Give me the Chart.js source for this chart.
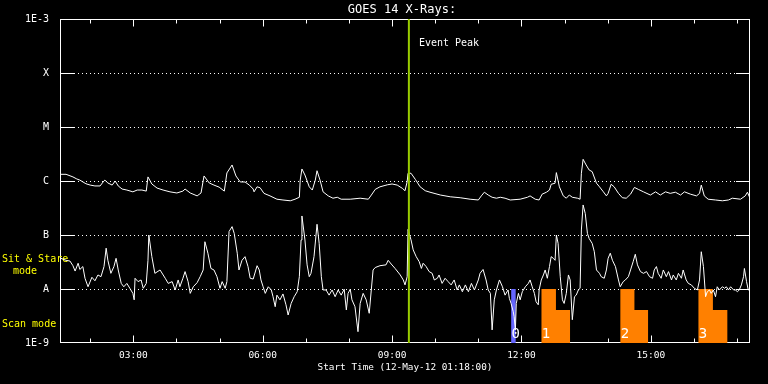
<!DOCTYPE html>
<html>
<head>
<meta charset="utf-8">
<script src="https://cdn.jsdelivr.net/npm/chart.js@4/dist/chart.umd.min.js"></script>
<style>
html,body{margin:0;padding:0;background:#000;overflow:hidden;}
canvas{display:block;}
</style>
</head>
<body>
<canvas id="c" width="768" height="384"></canvas>
<script>
// ---- Data (time in decimal hours UT, 12-May-2012; flux in W/m^2) ----
const longTimes = [
1.32,1.44,1.60,1.69,1.76,1.90,2.00,2.11,2.23,2.30,
2.34,2.41,2.51,2.58,2.65,2.74,2.85,2.99,3.09,3.20,
3.30,3.34,3.43,3.55,3.69,3.85,4.01,4.15,4.20,4.32,
4.48,4.57,4.64,4.76,4.87,4.99,5.11,5.17,5.29,5.38,
5.48,5.59,5.69,5.78,5.80,5.87,5.94,6.03,6.17,6.33,
6.47,6.64,6.75,6.85,6.87,6.91,6.98,7.08,7.15,7.22,
7.26,7.33,7.40,7.52,7.63,7.73,7.82,8.03,8.26,8.45,
8.52,8.61,8.72,8.89,9.00,9.12,9.24,9.30,9.35,9.37,
9.44,9.54,9.65,9.77,9.88,10.12,10.35,10.58,10.81,11.00,
11.07,11.14,11.23,11.32,11.42,11.51,11.62,11.74,11.97,12.14,
12.20,12.32,12.41,12.48,12.58,12.65,12.69,12.78,12.81,12.88,
12.97,13.04,13.11,13.18,13.30,13.36,13.39,13.43,13.50,13.57,
13.64,13.74,13.81,13.90,13.97,14.01,14.08,14.15,14.25,14.34,
14.43,14.53,14.62,14.71,14.83,14.99,15.11,15.22,15.34,15.45,
15.57,15.69,15.78,15.92,16.06,16.13,16.17,16.24,16.33,16.50,
16.66,16.80,16.89,17.08,17.19,17.24,17.30];
const longFlux = [
1.33e-6,1.33e-6,1.19e-6,1.09e-6,1.04e-6,8.9e-7,8.4e-7,8.1e-7,8.1e-7,9.6e-7,
1.04e-6,9.2e-7,8.4e-7,1.0e-6,8.1e-7,7.1e-7,6.8e-7,6.3e-7,6.8e-7,6.8e-7,
6.5e-7,1.19e-6,8.8e-7,7.4e-7,6.8e-7,6.3e-7,6.0e-7,6.5e-7,7.1e-7,6.0e-7,
5.3e-7,6.0e-7,1.24e-6,9.2e-7,8.4e-7,7.7e-7,6.5e-7,1.41e-6,1.98e-6,1.24e-6,
9.6e-7,9.6e-7,8.4e-7,7.1e-7,6.3e-7,7.8e-7,7.5e-7,5.9e-7,5.3e-7,4.6e-7,
4.45e-7,4.3e-7,4.6e-7,5.0e-7,1.04e-6,1.67e-6,1.29e-6,7.8e-7,6.8e-7,1.04e-6,
1.55e-6,1.04e-6,6.3e-7,5.3e-7,4.8e-7,5.0e-7,4.6e-7,4.6e-7,4.8e-7,4.6e-7,
5.5e-7,7.0e-7,7.8e-7,8.5e-7,8.8e-7,8.4e-7,7.3e-7,6.6e-7,9.7e-7,1.39e-6,
1.39e-6,1.07e-6,7.8e-7,6.6e-7,6.2e-7,5.5e-7,5.1e-7,4.9e-7,4.6e-7,4.45e-7,
5.3e-7,6.2e-7,5.5e-7,5.0e-7,4.8e-7,5.0e-7,4.8e-7,4.45e-7,4.6e-7,5.0e-7,
5.3e-7,4.6e-7,4.45e-7,5.7e-7,6.2e-7,6.8e-7,8.7e-7,9.1e-7,1.43e-6,7.8e-7,
5.3e-7,4.8e-7,5.5e-7,5.0e-7,4.8e-7,4.6e-7,1.39e-6,2.52e-6,1.98e-6,1.6e-6,
1.49e-6,9.1e-7,7.8e-7,6.3e-7,5.3e-7,5.9e-7,8.7e-7,7.8e-7,5.9e-7,4.9e-7,
4.8e-7,5.7e-7,7.6e-7,7.0e-7,6.3e-7,5.5e-7,6.3e-7,5.5e-7,6.3e-7,5.9e-7,
6.2e-7,5.5e-7,6.3e-7,5.7e-7,5.3e-7,5.9e-7,8.4e-7,5.3e-7,4.6e-7,4.45e-7,
4.3e-7,4.45e-7,4.8e-7,4.6e-7,5.3e-7,6.2e-7,4.8e-7];

const shortTimes = [
1.32,1.44,1.53,1.60,1.65,1.72,1.76,1.83,1.88,1.95,
2.04,2.11,2.18,2.25,2.32,2.37,2.41,2.48,2.55,2.60,
2.65,2.72,2.78,2.85,2.92,2.99,3.02,3.04,3.11,3.18,
3.23,3.30,3.34,3.36,3.43,3.50,3.62,3.74,3.81,3.90,
3.97,4.04,4.08,4.15,4.20,4.27,4.32,4.39,4.48,4.55,
4.62,4.66,4.73,4.80,4.87,4.94,5.01,5.06,5.13,5.17,
5.22,5.29,5.34,5.41,5.45,5.52,5.59,5.66,5.71,5.78,
5.87,5.92,5.96,6.01,6.06,6.13,6.20,6.24,6.29,6.33,
6.40,6.47,6.54,6.59,6.66,6.73,6.80,6.85,6.89,6.91,
6.98,7.03,7.08,7.12,7.19,7.26,7.31,7.36,7.40,7.47,
7.54,7.61,7.68,7.75,7.82,7.89,7.94,7.98,8.03,8.07,
8.14,8.21,8.26,8.33,8.40,8.47,8.56,8.61,8.72,8.86,
8.91,8.98,9.07,9.19,9.26,9.30,9.35,9.37,9.44,9.49,
9.56,9.63,9.68,9.72,9.79,9.86,9.93,9.98,10.05,10.09,
10.16,10.23,10.30,10.37,10.44,10.51,10.56,10.63,10.70,10.77,
10.84,10.91,11.00,11.04,11.11,11.18,11.23,11.28,11.32,11.37,
11.42,11.49,11.56,11.62,11.69,11.72,11.76,11.81,11.83,11.86,
11.88,11.93,11.97,12.02,12.09,12.16,12.20,12.25,12.30,12.34,
12.39,12.41,12.46,12.51,12.55,12.60,12.65,12.69,12.74,12.78,
12.81,12.85,12.90,12.95,12.99,13.04,13.09,13.13,13.18,13.23,
13.27,13.32,13.36,13.39,13.43,13.48,13.53,13.57,13.64,13.69,
13.74,13.81,13.85,13.92,13.97,14.01,14.06,14.11,14.18,14.25,
14.29,14.36,14.41,14.48,14.53,14.59,14.64,14.69,14.76,14.83,
14.90,14.97,15.04,15.08,15.13,15.17,15.24,15.29,15.36,15.41,
15.48,15.52,15.59,15.64,15.71,15.75,15.82,15.87,15.94,16.01,
16.08,16.13,16.17,16.22,16.27,16.31,16.36,16.40,16.45,16.50,
16.54,16.59,16.66,16.71,16.75,16.80,16.85,16.92,16.96,17.01,
17.05,17.10,17.15,17.17,17.22,17.26,17.30];
const shortFlux = [
3.7e-8,3.4e-8,3.3e-8,2.7e-8,2.15e-8,3.0e-8,2.3e-8,2.6e-8,1.58e-8,1.1e-8,
1.65e-8,1.42e-8,1.82e-8,1.69e-8,2.6e-8,5.7e-8,3.4e-8,1.95e-8,2.6e-8,3.7e-8,
2.25e-8,1.27e-8,1.1e-8,1.27e-8,1.03e-8,8.3e-9,6.3e-9,1.58e-8,1.37e-8,1.47e-8,
1.03e-8,1.27e-8,3.4e-8,1.0e-7,3.97e-8,1.95e-8,2.25e-8,1.58e-8,1.27e-8,1.37e-8,
9.6e-9,1.47e-8,1.1e-8,1.58e-8,2.1e-8,1.37e-8,8.3e-9,1.1e-8,1.31e-8,1.69e-8,
2.25e-8,7.5e-8,4.6e-8,2.4e-8,2.25e-8,1.69e-8,1.03e-8,1.37e-8,1.03e-8,1.37e-8,
1.16e-7,1.43e-7,1.07e-7,4.6e-8,2.25e-8,3.4e-8,3.97e-8,2.6e-8,1.58e-8,1.53e-8,
2.7e-8,2.25e-8,1.47e-8,1.1e-8,8.3e-9,1.1e-8,9.6e-9,7.2e-9,4.7e-9,7.7e-9,
6.3e-9,8.1e-9,5.1e-9,3.3e-9,5.4e-9,7.2e-9,8.9e-9,1.69e-8,8.1e-8,2.25e-7,
8.1e-8,2.8e-8,1.69e-8,1.95e-8,3.97e-8,1.58e-7,7.0e-8,1.69e-8,9.6e-9,9.6e-9,
7.7e-9,9.6e-9,7.2e-9,9.6e-9,7.7e-9,9.9e-9,4.1e-9,8.3e-9,9.9e-9,6.3e-9,
4.7e-9,1.62e-9,5.4e-9,8.3e-9,6.3e-9,3.55e-9,2.25e-8,2.5e-8,2.7e-8,2.8e-8,
3.4e-8,2.9e-8,2.4e-8,1.82e-8,1.47e-8,1.19e-8,1.69e-8,1.27e-7,8.1e-8,5.3e-8,
3.97e-8,3.2e-8,2.4e-8,3.0e-8,2.6e-8,2.1e-8,1.95e-8,1.47e-8,1.58e-8,1.82e-8,
1.27e-8,1.58e-8,1.37e-8,1.19e-8,1.47e-8,9.6e-9,1.19e-8,8.9e-9,1.19e-8,8.9e-9,
1.27e-8,9.6e-9,1.47e-8,1.95e-8,2.3e-8,1.47e-8,9.6e-9,8.3e-9,1.75e-9,6.3e-9,
9.6e-9,1.47e-8,1.1e-8,7.7e-9,9.6e-9,6.7e-9,5.4e-9,3.8e-9,3.1e-9,1.75e-9,
5.4e-9,8.3e-9,6.3e-9,8.9e-9,1.1e-8,1.27e-8,1.47e-8,1.1e-8,8.3e-9,5.8e-9,
5.1e-9,9.6e-9,1.47e-8,1.82e-8,2.25e-8,1.58e-8,2.6e-8,3.97e-8,3.7e-8,3.4e-8,
1.0e-7,7.0e-8,1.69e-8,6.3e-9,5.4e-9,8.3e-9,1.82e-8,1.47e-8,2.7e-9,7.2e-9,
7.7e-9,9.6e-9,1.03e-8,1.24e-7,3.6e-7,2.5e-7,1.07e-7,8.6e-8,7.0e-8,4.9e-8,
2.25e-8,1.95e-8,1.69e-8,1.58e-8,2.25e-8,3.7e-8,4.6e-8,3.4e-8,2.6e-8,1.47e-8,
1.1e-8,1.37e-8,1.47e-8,1.69e-8,2.25e-8,3.2e-8,4.4e-8,2.8e-8,2.1e-8,1.95e-8,
2.1e-8,1.69e-8,1.58e-8,2.25e-8,2.6e-8,1.95e-8,1.58e-8,2.25e-8,1.69e-8,2.1e-8,
1.47e-8,1.82e-8,1.47e-8,1.95e-8,1.58e-8,2.25e-8,1.47e-8,1.27e-8,1.19e-8,1.03e-8,
9.6e-9,1.47e-8,4.9e-8,2.6e-8,7.2e-9,8.9e-9,9.6e-9,8.3e-9,9.6e-9,7.2e-9,
1.1e-8,9.6e-9,1.1e-8,1.03e-8,1.1e-8,9.6e-9,1.1e-8,9.6e-9,9.6e-9,8.9e-9,
9.6e-9,1.19e-8,1.69e-8,2.4e-8,1.37e-8,9.6e-9,9.6e-9];

// Scan-mode blocks (orange) and sit & stare block (blue)
const scanLabels = ['1','2','3'];
const scanStart  = [12.46, 14.29, 16.10];
const scanStep   = [12.80, 14.62, 16.44];
const scanEnd    = [13.13, 14.94, 16.78];
const scanHigh   = 1e-8;
const scanLow    = 4.1e-9;
const stareLabel = ['0'];
const stareStart = [11.76];
const stareEnd   = [11.87];

const eventPeakTime = [9.39];

const timeMin = 1.3, timeMax = 17.3;           // 01:18 -> 17:18
const hourTicks = [2,3,4,5,6,7,8,9,10,11,12,13,14,15,16,17];
const fluxTicks = [1e-9,1e-8,1e-7,1e-6,1e-5,1e-4,1e-3];
const fluxTickLabels = ['1E-9','A','B','C','M','X','1E-3'];

const FONT = '"DejaVu Sans Mono", monospace';

// ---- Datasets ----
const toXY = (ts, vs) => ts.map((t, i) => ({x: t, y: vs[i]}));
const datasets = [];
datasets.push({
  data: [{x: eventPeakTime[0], y: fluxTicks[0]}, {x: eventPeakTime[0], y: fluxTicks[6]}],
  borderColor: '#99cc00', borderWidth: 2, pointRadius: 0, fill: false, order: -1
});
datasets.push({data: toXY(longTimes, longFlux), borderColor: '#ffffff', borderWidth: 1, pointRadius: 0, fill: false, order: 0});
datasets.push({data: toXY(shortTimes, shortFlux), borderColor: '#ffffff', borderWidth: 1, pointRadius: 0, fill: false, order: 0});
for (let i = 0; i < scanStart.length; i++) {
  datasets.push({
    data: [{x: scanStart[i], y: scanHigh}, {x: scanStep[i], y: scanHigh},
           {x: scanStep[i], y: scanLow}, {x: scanEnd[i], y: scanLow}],
    borderWidth: 0, borderColor: 'rgba(0,0,0,0)', backgroundColor: '#ff8000',
    pointRadius: 0, fill: 'start', order: 2
  });
}
for (let i = 0; i < stareStart.length; i++) {
  datasets.push({
    data: [{x: stareStart[i], y: scanHigh}, {x: stareEnd[i], y: scanHigh}],
    borderWidth: 0, borderColor: 'rgba(0,0,0,0)', backgroundColor: '#6666ff',
    pointRadius: 0, fill: 'start', order: 2
  });
}

const pad2 = n => (n < 10 ? '0' : '') + n;

const decor = {
  id: 'decor',
  beforeDatasetsDraw(chart) {
    const {ctx, chartArea: a, scales: {x, y}} = chart;
    ctx.save();
    ctx.strokeStyle = '#ffffff';
    ctx.fillStyle = '#ffffff';
    ctx.lineWidth = 1;
    const l = Math.round(a.left), r = Math.round(a.right) - 1;
    const L = l + 0.5, R = r + 0.5;
    const T = Math.round(a.top) + 0.5, B = Math.round(a.bottom) - 0.5;
    // dotted class lines (1px dots every 4px) + solid y ticks
    for (let i = 1; i < fluxTicks.length - 1; i++) {
      const py = Math.round(y.getPixelForValue(fluxTicks[i]));
      for (let dx = l + 18; dx < r - 14; dx += 4) ctx.fillRect(dx, py, 1, 1);
      ctx.fillRect(l, py, 15, 1);
      ctx.fillRect(r - 13, py, 14, 1);
    }
    // frame
    ctx.strokeRect(L, T, R - L, B - T);
    // x ticks (inward)
    hourTicks.forEach(h => {
      const px = Math.round(x.getPixelForValue(h)) + 0.5;
      const len = h % 3 === 0 ? 7 : 4;
      ctx.beginPath();
      ctx.moveTo(px, T); ctx.lineTo(px, T + len);
      ctx.moveTo(px, B); ctx.lineTo(px, B - len);
      ctx.stroke();
    });
    // titles
    ctx.textAlign = 'center';
    ctx.textBaseline = 'middle';
    ctx.font = '12px ' + FONT;
    ctx.fillText('GOES 14 X-Rays:', (a.left + a.right) / 2 - 3, a.top - 9);
    ctx.font = '9.4px ' + FONT;
    ctx.fillText('Start Time (12-May-12 01:18:00)', (a.left + a.right) / 2, a.bottom + 25);
    // mode labels
    ctx.fillStyle = '#ffff00';
    ctx.textAlign = 'left';
    ctx.font = '10px ' + FONT;
    ctx.fillText('Sit & Stare', 2, a.top + 240);
    ctx.fillText('mode', 13, a.top + 252);
    ctx.fillText('Scan mode', 2, a.top + 305);
    ctx.restore();
  },
  afterDatasetsDraw(chart) {
    const {ctx, chartArea: a, scales: {x}} = chart;
    ctx.save();
    ctx.fillStyle = '#ffffff';
    ctx.textAlign = 'left';
    ctx.textBaseline = 'alphabetic';
    ctx.font = '14px ' + FONT;
    scanStart.forEach((s, i) => ctx.fillText(scanLabels[i], x.getPixelForValue(s) + 0.5, a.bottom - 5));
    stareStart.forEach((s, i) => ctx.fillText(stareLabel[i], x.getPixelForValue(s) + 0.5, a.bottom - 5));
    ctx.font = '10px ' + FONT;
    ctx.textBaseline = 'middle';
    ctx.fillText('Event Peak', x.getPixelForValue(eventPeakTime[0]) + 10, a.top + 24);
    ctx.restore();
  }
};

new Chart(document.getElementById('c'), {
  type: 'line',
  data: {datasets},
  options: {
    responsive: false,
    animation: false,
    devicePixelRatio: 1,
    layout: {padding: {left: 0, right: 18, top: 19, bottom: 0}},
    plugins: {legend: {display: false}, tooltip: {enabled: false}, title: {display: false}},
    elements: {line: {tension: 0}},
    scales: {
      x: {
        type: 'linear', min: timeMin, max: timeMax,
        afterBuildTicks: s => { s.ticks = hourTicks.map(v => ({value: v})); },
        afterFit: s => { s.height = 41; },
        grid: {display: false}, border: {display: false},
        ticks: {
          autoSkip: false, maxRotation: 0, padding: -1, color: '#ffffff',
          font: {family: FONT, size: 9.5},
          callback: v => (v % 3 === 0 ? pad2(v) + ':00' : '')
        }
      },
      y: {
        type: 'logarithmic', min: fluxTicks[0], max: fluxTicks[6],
        afterBuildTicks: s => { s.ticks = fluxTicks.map(v => ({value: v})); },
        afterFit: s => { s.width = 60; },
        grid: {display: false}, border: {display: false},
        ticks: {
          autoSkip: false, padding: 3, color: '#ffffff',
          font: {family: FONT, size: 10},
          callback: (v) => { const i = fluxTicks.findIndex(t => Math.abs(Math.log10(t) - Math.log10(v)) < 1e-6); return i >= 0 ? fluxTickLabels[i] : ''; }
        }
      }
    }
  },
  plugins: [decor]
});
</script>
</body>
</html>
